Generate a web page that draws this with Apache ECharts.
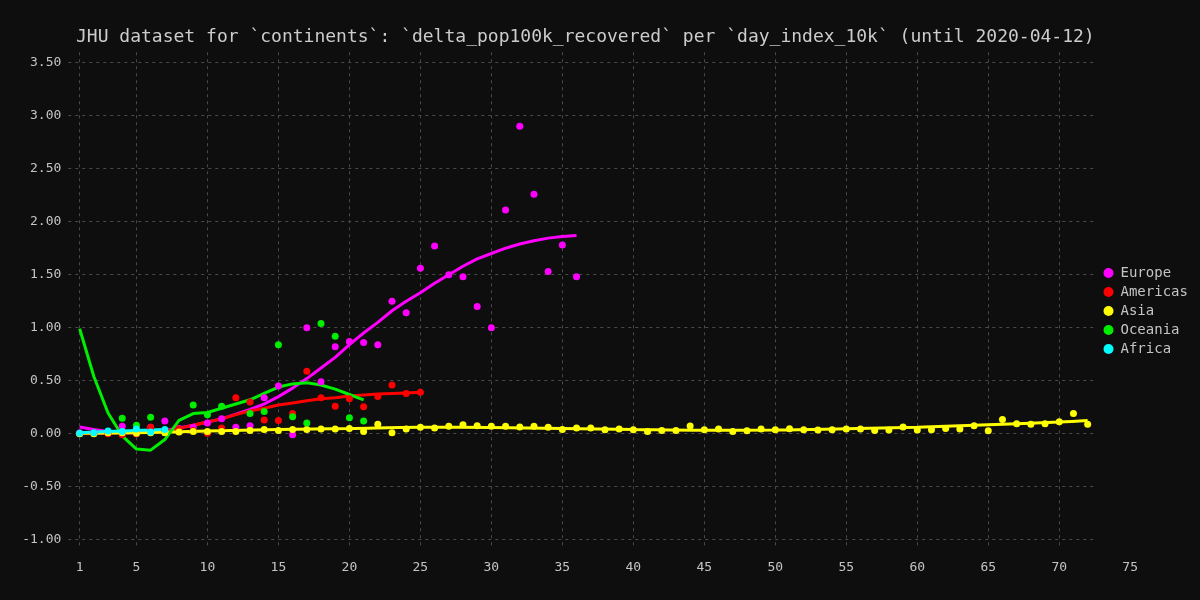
<!DOCTYPE html>
<html>
<head>
<meta charset="utf-8">
<script src="https://cdn.jsdelivr.net/npm/echarts@6/dist/echarts.min.js"></script>
<style>
  html, body { margin: 0; padding: 0; background: #0e0e0e; }
  #chart { width: 1200px; height: 600px; }
</style>
</head>
<body>
<div id="chart"></div>
<script>
// ---------- data ----------
const titleText = "JHU dataset for `continents`: `delta_pop100k_recovered` per `day_index_10k` (until 2020-04-12)";
const continents = ["Europe", "Americas", "Asia", "Oceania", "Africa"];
const colors = ["#ff00ff", "#ff0000", "#ffff00", "#00ee00", "#00ffff"];

const xGridTicks = [1, 5, 10, 15, 20, 25, 30, 35, 40, 45, 50, 55, 60, 65, 70];
const xTickLabels = [1, 5, 10, 15, 20, 25, 30, 35, 40, 45, 50, 55, 60, 65, 70, 75];
const yTicks = [-1, -0.5, 0, 0.5, 1, 1.5, 2, 2.5, 3, 3.5];

// scatter points
const europeX = [1,2,3,4,5,6,7,8,9,10,11,12,13,14,15,16,17,18,19,20,21,22,23,24,25,26,27,28,29,30,31,32,33,34,35,36];
const europeY = [0.01,0.01,0.01,0.07,0.01,0.06,0.12,0.05,0.06,0.10,0.14,0.06,0.075,0.34,0.45,-0.01,1.00,0.49,0.82,0.87,0.86,0.84,1.25,1.14,1.56,1.77,1.50,1.48,1.20,1.00,2.11,2.90,2.26,1.53,1.78,1.48];

const americasX = [1,2,3,4,5,6,7,8,9,10,11,12,13,14,15,16,17,18,19,20,21,22,23,24,25];
const americasY = [0.0,0.005,0.0,-0.01,0.0,0.06,0.03,0.045,0.03,0.005,0.055,0.34,0.30,0.13,0.125,0.19,0.59,0.34,0.26,0.33,0.255,0.35,0.46,0.38,0.39];

const asiaX = [1,2,3,4,5,6,7,8,9,10,11,12,13,14,15,16,17,18,19,20,21,22,23,24,25,26,27,28,29,30,31,32,33,34,35,36,37,38,39,40,41,42,43,44,45,46,47,48,49,50,51,52,53,54,55,56,57,58,59,60,61,62,63,64,65,66,67,68,69,70,71,72];
const asiaY = [0.0,0.0,0.01,0.01,0.005,0.01,0.01,0.015,0.02,0.02,0.02,0.02,
  0.03,0.04,0.03,0.04,0.04,0.045,0.045,0.05,0.02,0.09,0.01,0.045,0.06,0.055,
  0.07,0.085,0.075,0.07,0.07,0.063,0.07,0.06,0.04,0.054,0.054,0.038,0.044,0.038,0.022,0.03,0.03,0.072,0.038,0.044,0.022,0.028,
  0.044,0.038,0.047,0.038,0.035,0.038,0.044,0.044,0.03,0.035,0.063,0.035,0.038,0.05,0.044,0.075,0.028,0.135,0.094,0.09,0.094,0.113,0.19,0.09];

const oceaniaX = [4,5,6,9,10,11,13,14,15,16,17,18,19,20,21];
const oceaniaY = [0.145,0.08,0.155,0.27,0.18,0.26,0.19,0.21,0.84,0.16,0.10,1.04,0.92,0.15,0.12];

const africaX = [1,2,3,4,5,6,7];
const africaY = [0.005,0.01,0.025,0.02,0.045,0.015,0.04];

// fitted trend lines
const europeFitX = [1,2,3,4,5,6,7,8,9,10,11,12,13,14,15,16,17,18,19,20,21,22,23,24,25,26,27,28,29,30,31,32,33,34,35,36];
const europeFitY = [0.063,0.04,0.02,0.01,0.01,0.015,0.03,0.055,0.08,0.11,0.14,0.185,0.23,0.28,0.35,0.43,0.52,0.62,0.72,0.84,0.95,1.05,1.16,1.25,1.33,1.42,1.50,1.58,1.65,1.70,1.75,1.79,1.82,1.845,1.86,1.87];

const americasFitX = [1,2,3,4,5,6,7,8,9,10,11,12,13,14,15,16,17,18,19,20,21,22,23,24,25];
const americasFitY = [0.0,0.003,0.006,0.009,0.012,0.016,0.02,0.05,0.08,0.11,0.14,0.18,0.215,0.24,0.27,0.29,0.31,0.33,0.34,0.355,0.365,0.375,0.38,0.385,0.39];

const asiaFitX = [1,5,10,15,20,25,30,35,40,45,50,55,60,65,70,72];
const asiaFitY = [0.005,0.01,0.025,0.04,0.05,0.06,0.058,0.05,0.04,0.033,0.035,0.047,0.062,0.085,0.11,0.125];

const oceaniaFitX = [1,2,3,4,5,6,7,8,9,10,11,12,13,14,15,16,17,18,19,20,21];
const oceaniaFitY = [0.99,0.54,0.195,-0.02,-0.145,-0.155,-0.055,0.125,0.19,0.2,0.24,0.28,0.32,0.38,0.44,0.47,0.48,0.46,0.42,0.37,0.32];

const africaFitX = [1,2,3,4,5,6,7];
const africaFitY = [0.01,0.015,0.02,0.025,0.03,0.035,0.04];

// ---------- build ----------
function zip(xs, ys) { return xs.map((x, i) => [x, ys[i]]); }

const pts = [zip(europeX, europeY), zip(americasX, americasY), zip(asiaX, asiaY), zip(oceaniaX, oceaniaY), zip(africaX, africaY)];
const fits = [zip(europeFitX, europeFitY), zip(americasFitX, americasFitY), zip(asiaFitX, asiaFitY), zip(oceaniaFitX, oceaniaFitY), zip(africaFitX, africaFitY)];
const smoothFlags = [false, false, 0.4, false, false];

const FONT = "DejaVu Sans Mono";
const TXT = "#c4c4c4";
const GRIDC = "#4a4a4a";

const series = [];
continents.forEach((name, i) => {
  series.push({
    name: name, type: 'line', data: fits[i], showSymbol: false, symbol: 'none',
    smooth: smoothFlags[i], silent: true, z: 2,
    lineStyle: { color: colors[i], width: 3 }, itemStyle: { color: colors[i] }
  });
});
continents.forEach((name, i) => {
  series.push({
    name: name, type: 'scatter', data: pts[i], symbol: 'circle', symbolSize: 7, z: 3,
    itemStyle: { color: colors[i], opacity: 1 }
  });
});

const chart = echarts.init(document.getElementById('chart'), null, { renderer: 'canvas' });
chart.setOption({
  backgroundColor: '#0e0e0e',
  animation: false,
  textStyle: { fontFamily: FONT },
  title: {
    text: titleText, left: 71, top: 23,
    textStyle: { color: '#cccccc', fontFamily: FONT, fontSize: 18, fontWeight: 'normal' }
  },
  legend: {
    orient: 'vertical', left: 1098.5, top: 261,
    itemWidth: 10, itemHeight: 10, itemGap: 5, icon: 'circle',
    data: continents,
    textStyle: { color: TXT, fontFamily: FONT, fontSize: 14, padding: [0, 0, 0, 2] }
  },
  grid: [
    { left: 68.3, right: 102.7, top: 52.3, bottom: 51.7, containLabel: false },
    { left: 68.3, right: 69.8, top: 52.3, bottom: 51.7, containLabel: false }
  ],
  xAxis: [
    {
      type: 'value', gridIndex: 0, min: 0.2, max: 72.68,
      axisLine: { show: false }, axisLabel: { show: false },
      axisTick: { show: false, customValues: xGridTicks },
      splitLine: { show: true, lineStyle: { color: GRIDC, type: [3, 4], width: 1 } }
    },
    {
      type: 'value', gridIndex: 1, min: 0.2, max: 75,
      axisLine: { show: false }, axisTick: { show: false, customValues: xTickLabels },
      splitLine: { show: false },
      axisLabel: { show: true, customValues: xTickLabels, color: TXT, fontFamily: FONT, fontSize: 13, margin: 13,
        showMinLabel: true, showMaxLabel: true, hideOverlap: false }
    }
  ],
  yAxis: [
    {
      type: 'value', gridIndex: 0, min: -1.081, max: 3.598,
      axisLine: { show: false }, axisTick: { show: false, customValues: yTicks },
      splitLine: { show: true, lineStyle: { color: GRIDC, type: [3, 4], width: 1 } },
      axisLabel: { show: true, customValues: yTicks, color: TXT, fontFamily: FONT, fontSize: 13, margin: 7,
        formatter: v => Number(v).toFixed(2) }
    },
    {
      type: 'value', gridIndex: 1, min: -1.081, max: 3.598, show: false,
      splitLine: { show: false }
    }
  ],
  series: series
});
</script>
</body>
</html>
